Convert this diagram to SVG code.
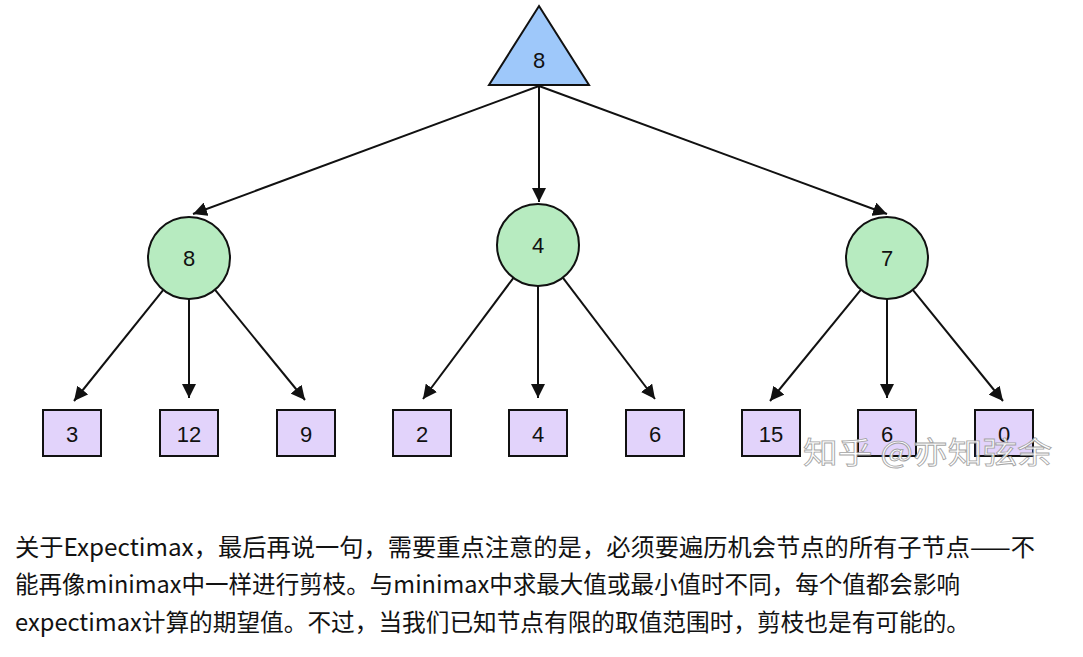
<svg xmlns="http://www.w3.org/2000/svg" width="1083" height="657" viewBox="0 0 1083 657">
<style>
.lbl{font-family:"Liberation Sans",Arial,sans-serif;font-size:22px;fill:#111;text-anchor:middle;dominant-baseline:central}
.max{fill:#9ec8fa;stroke:#111;stroke-width:2}
.chance{fill:#b7ebc0;stroke:#111;stroke-width:2}
.leaf{fill:#e2d3fb;stroke:#111;stroke-width:2}
.edge{stroke:#111;stroke-width:2;fill:none;marker-end:url(#arr)}
.para{font-family:"Noto Sans CJK SC","Microsoft YaHei",sans-serif;font-size:24px;fill:#121212}
.wm{font-family:"Noto Sans CJK SC",sans-serif;font-size:30px;fill:#fff;stroke:#9a9a9a;stroke-width:0.8;opacity:0.9}
</style>
<defs>
<marker id="arr" markerUnits="userSpaceOnUse" markerWidth="16" markerHeight="14" refX="14" refY="7" orient="auto">
<path d="M0,0 L14,7 L0,14 Z" fill="#111"/>
</marker>
</defs>
<rect width="1083" height="657" fill="#fff"/>
<g id="connectors">
<path class="edge" d="M539,86 L193,214"/>
<path class="edge" d="M539,86 L539,202"/>
<path class="edge" d="M539,86 L887,214"/>
<path class="edge" d="M163.3,289.9 L74,401"/>
<path class="edge" d="M189,299 L189,398"/>
<path class="edge" d="M214.9,289.7 L305,400"/>
<path class="edge" d="M513.5,277.8 L423,399"/>
<path class="edge" d="M538,286 L538,398"/>
<path class="edge" d="M562.8,277.6 L655,399"/>
<path class="edge" d="M861,289.7 L770,401"/>
<path class="edge" d="M887,299 L887,398"/>
<path class="edge" d="M912.8,289.9 L1003,401"/>
</g>
<g id="root"><polygon class="max" points="539,6 589,85 489,85"/><text class="lbl" x="539" y="60">8</text></g>
<g id="c1"><circle class="chance" cx="189" cy="258" r="41"/><text class="lbl" x="189" y="258">8</text></g>
<g id="c2"><circle class="chance" cx="538" cy="245" r="41"/><text class="lbl" x="538" y="245">4</text></g>
<g id="c3"><circle class="chance" cx="887" cy="258" r="41"/><text class="lbl" x="887" y="258">7</text></g>
<g id="l1"><rect class="leaf" x="43" y="410" width="58" height="46"/><text class="lbl" x="72" y="434">3</text></g>
<g id="l2"><rect class="leaf" x="160" y="410" width="58" height="46"/><text class="lbl" x="189" y="434">12</text></g>
<g id="l3"><rect class="leaf" x="277" y="410" width="58" height="46"/><text class="lbl" x="306" y="434">9</text></g>
<g id="l4"><rect class="leaf" x="393" y="410" width="58" height="46"/><text class="lbl" x="422" y="434">2</text></g>
<g id="l5"><rect class="leaf" x="509" y="410" width="58" height="46"/><text class="lbl" x="538" y="434">4</text></g>
<g id="l6"><rect class="leaf" x="626" y="410" width="58" height="46"/><text class="lbl" x="655" y="434">6</text></g>
<g id="l7"><rect class="leaf" x="742" y="410" width="58" height="46"/><text class="lbl" x="771" y="434">15</text></g>
<g id="l8"><rect class="leaf" x="858" y="410" width="58" height="46"/><text class="lbl" x="887" y="434">6</text></g>
<g id="l9"><rect class="leaf" x="975" y="410" width="58" height="46"/><text class="lbl" x="1004" y="434">0</text></g>
<text class="wm" x="803" y="463" textLength="249" lengthAdjust="spacingAndGlyphs">知乎 @亦知弦余</text>
<g id="paragraph">
<text class="para" x="15" y="556" textLength="1020" lengthAdjust="spacingAndGlyphs">关于Expectimax，最后再说一句，需要重点注意的是，必须要遍历机会节点的所有子节点——不</text>
<text class="para" x="15" y="593" textLength="945" lengthAdjust="spacingAndGlyphs">能再像minimax中一样进行剪枝。与minimax中求最大值或最小值时不同，每个值都会影响</text>
<text class="para" x="15" y="631" textLength="955" lengthAdjust="spacingAndGlyphs">expectimax计算的期望值。不过，当我们已知节点有限的取值范围时，剪枝也是有可能的。</text>
</g>
</svg>
